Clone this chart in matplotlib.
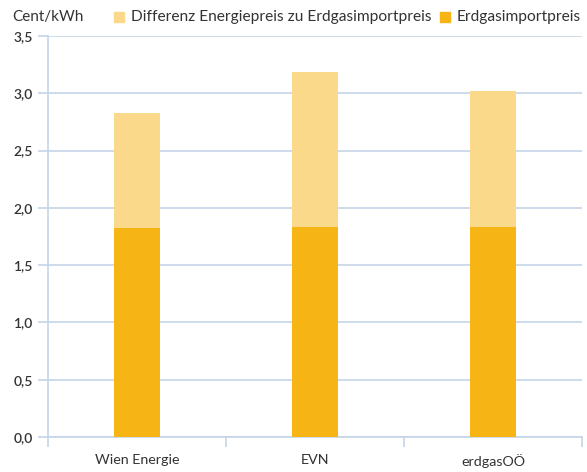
import numpy as np
import matplotlib.pyplot as plt
from matplotlib.patches import Rectangle

# Data
categories = ['Wien Energie', 'EVN', 'erdgasOÖ']
import_price = [1.82, 1.83, 1.83]
total_price = [2.83, 3.19, 3.02]
diff_price = [t - i for t, i in zip(total_price, import_price)]
yticks = [0.0, 0.5, 1.0, 1.5, 2.0, 2.5, 3.0, 3.5]

c_dark = '#F7B515'
c_light = '#FBD98B'
c_grid = '#C5D4E8'
c_text = '#333333'

plt.rcParams['font.family'] = ['Lato', 'DejaVu Sans']

fig = plt.figure(figsize=(5.87, 4.72), dpi=100)
ax = fig.add_axes([48 / 587, 35 / 472, 534 / 587, 401 / 472])

x = np.arange(len(categories))
w = 0.26
ax.bar(x, import_price, width=w, color=c_dark, zorder=3)
ax.bar(x, diff_price, width=w, bottom=import_price, color=c_light, zorder=3)

ax.set_xlim(-0.5, len(categories) - 0.5)
ax.set_ylim(0, 3.5)
ax.set_yticks(yticks)
ax.set_yticklabels([f'{v:.1f}'.replace('.', ',') for v in yticks],
                   fontsize=10, color=c_text, fontweight='semibold')
ax.yaxis.grid(True, color=c_grid, linewidth=1.2, zorder=0)

# category boundaries as ticks
ax.set_xticks(np.arange(len(categories) + 1) - 0.5)
ax.set_xticklabels([])
ax.set_xticks(x, minor=True)
ax.set_xticklabels(categories, minor=True, fontsize=10.3, color=c_text)
ax.tick_params(axis='x', which='minor', length=0, pad=12)
ax.tick_params(axis='x', which='major', length=7, color=c_grid, width=1.2)
ax.tick_params(axis='y', length=7, color=c_grid, width=1.2, pad=4)

for s in ['top', 'right']:
    ax.spines[s].set_visible(False)
for s in ['left', 'bottom']:
    ax.spines[s].set_color(c_grid)
    ax.spines[s].set_linewidth(1.2)

# header / legend
fig.text(12 / 587, 1 - 17 / 472, 'Cent/kWh', fontsize=11, color=c_text, va='center')
for px, label, col in [(114, 'Differenz Energiepreis zu Erdgasimportpreis', c_light),
                       (440, 'Erdgasimportpreis', c_dark)]:
    fig.patches.append(Rectangle((px / 587, 1 - 22 / 472), 10 / 587, 10 / 472,
                                 transform=fig.transFigure, color=col))
    fig.text((px + 17) / 587, 1 - 17 / 472, label, fontsize=11.2, color=c_text, va='center')

fig.savefig('out.png', dpi=100)
